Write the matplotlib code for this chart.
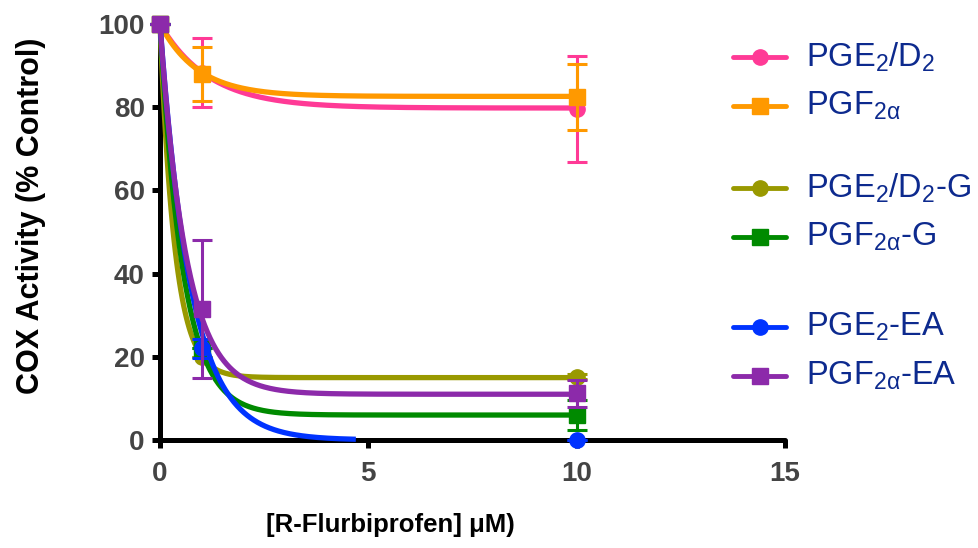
import matplotlib.pyplot as plt
import numpy as np
from matplotlib.lines import Line2D

plt.rcParams['font.family'] = ['Liberation Sans', 'DejaVu Sans']
plt.rcParams['mathtext.fontset'] = 'custom'
plt.rcParams['mathtext.rm'] = 'Liberation Sans'
plt.rcParams['mathtext.it'] = 'Liberation Sans'

# concentrations (uM)
conc = [0, 1, 10]

names = [r'PGE$_2$/D$_2$', r'PGF$_{\mathregular{2α}}$',
         r'PGE$_2$/D$_2$-G', r'PGF$_{\mathregular{2α}}$-G',
         r'PGE$_2$-EA', r'PGF$_{\mathregular{2α}}$-EA']
colors = ['#ff3a96', '#ff9900', '#999900', '#008a00', '#0033ff', '#8c2aaa']
markers = ['o', 's', 'o', 's', 'o', 's']

# mean % control at each concentration
means = [[100, 88.3, 79.5],
         [100, 88, 82.5],
         [100, 20, 15.2],
         [100, 22, 6.0],
         [100, 22, 0.0],
         [100, 31.5, 11.2]]
sems = [[0, 8.3, 12.7],
        [0, 6.5, 8.0],
        [0, 0, 0.6],
        [0, 0, 3.5],
        [0, 2.2, 0],
        [0, 16.5, 3.3]]

# one-phase decay fit: plateau and rate constant, curve end
plateau = [79.8, 82.6, 15.0, 6.0, 0.0, 11.0]
rate_k = [0.85, 1.1, 2.8, 1.8, 1.35, 1.57]
fit_end = [10, 10, 10, 10, 4.7, 10]

fig = plt.figure(figsize=(9.79, 5.48), dpi=100)
ax = fig.add_axes([160 / 979, 108 / 548, 625 / 979, 416 / 548])

for i in range(len(names)):
    xs = np.linspace(0, fit_end[i], 300)
    ys = plateau[i] + (100 - plateau[i]) * np.exp(-rate_k[i] * xs)
    ax.plot(xs, ys, color=colors[i], lw=3.8, solid_capstyle='butt', zorder=3 + i, clip_on=False)
    ax.errorbar(conc, means[i], yerr=sems[i], fmt=markers[i], color=colors[i],
                ms=11, elinewidth=2.2, capsize=7, capthick=2.2, zorder=3 + i, clip_on=False)

ax.set_xlim(0, 15)
ax.set_ylim(0, 100)
ax.set_xticks([0, 5, 10, 15])
ax.set_yticks([0, 20, 40, 60, 80, 100])
for s in ['top', 'right']:
    ax.spines[s].set_visible(False)
for s in ['left', 'bottom']:
    ax.spines[s].set_linewidth(3.6)
    ax.spines[s].set_capstyle('round')
ax.tick_params(width=3.6, length=6, pad=5, labelsize=20, labelcolor='#444444')
ax.tick_params(axis='x', pad=9)
for lab in ax.get_xticklabels() + ax.get_yticklabels():
    lab.set_fontweight('bold')

ax.set_ylabel('COX Activity (% Control)', fontsize=22, fontweight='bold')
ax.yaxis.set_label_coords(-0.182, 0.538)
ax.set_xlabel('[R-Flurbiprofen] μM)', fontsize=18.5, fontweight='bold', va='center')
ax.xaxis.set_label_coords(0.368, -0.204)

# grouped legend on the right
leg_y = [57, 106, 188, 237, 327, 376]
W, H = 979, 548
for i in range(len(names)):
    y = 1 - leg_y[i] / H
    fig.add_artist(Line2D([733 / W, 786 / W], [y, y], transform=fig.transFigure,
                          color=colors[i], lw=3.5, solid_capstyle='round'))
    fig.add_artist(Line2D([760 / W], [y], transform=fig.transFigure, marker=markers[i],
                          color=colors[i], ms=11, lw=0))
    fig.text(806 / W, y, names[i], fontsize=23.5, color='#0d2a8e', va='center', ha='left')

fig.savefig('out.png', dpi=100)
